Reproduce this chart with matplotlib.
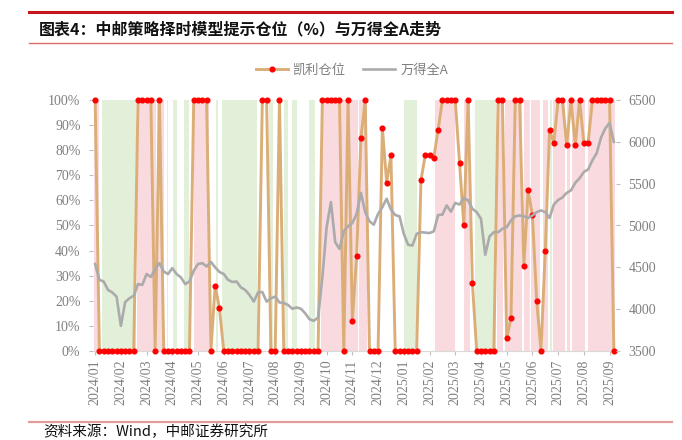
import matplotlib
matplotlib.use('Agg')
import matplotlib.pyplot as plt
from matplotlib.lines import Line2D

plt.rcParams['font.family'] = ['Noto Sans CJK SC', 'DejaVu Sans']

month_labels = ['2024/01', '2024/02', '2024/03', '2024/04', '2024/05', '2024/06', '2024/07',
                '2024/08', '2024/09', '2024/10', '2024/11', '2024/12', '2025/01', '2025/02',
                '2025/03', '2025/04', '2025/05', '2025/06', '2025/07', '2025/08', '2025/09']

# Kelly position (%) per sample
kelly_position = [
    100, 0, 0, 0, 0, 0, 0, 0, 0, 0,
    100, 100, 100, 100, 0, 100, 0, 0, 0, 0,
    0, 0, 0, 100, 100, 100, 100, 0, 26, 17,
    0, 0, 0, 0, 0, 0, 0, 0, 0, 100,
    100, 0, 0, 100, 0, 0, 0, 0, 0, 0,
    0, 0, 0, 100, 100, 100, 100, 100, 0, 100,
    12, 38, 85, 100, 0, 0, 0, 89, 67, 78,
    0, 0, 0, 0, 0, 0, 68, 78, 78, 77,
    88, 100, 100, 100, 100, 75, 50, 100, 27, 0,
    0, 0, 0, 0, 100, 100, 5, 13, 100, 100,
    34, 64, 54, 20, 0, 40, 88, 83, 100, 100,
    82, 100, 82, 100, 83, 83, 100, 100, 100, 100, 100, 0,
]

# Wind All A index per sample
wind_a = [
    4540, 4350, 4330, 4230, 4200, 4150, 3800, 4085, 4130, 4160,
    4300, 4290, 4420, 4385, 4480, 4550, 4450, 4420, 4490, 4420,
    4380, 4300, 4330, 4460, 4540, 4550, 4510, 4565, 4500, 4445,
    4420, 4350, 4325, 4330, 4260, 4230, 4170, 4090, 4200, 4205,
    4090, 4130, 4150, 4080, 4075, 4050, 4005, 4020, 4005, 3950,
    3880, 3860, 3900, 4380, 4980, 5280, 4800, 4720, 4930, 4990,
    5030, 5140, 5390, 5160, 5050, 5010, 5140, 5220, 5320, 5190,
    5125, 5110, 4900, 4770, 4760, 4900, 4920, 4915, 4910, 4930,
    5125, 5130, 5240, 5165, 5270, 5250, 5330, 5300, 5200, 5160,
    5080, 4650, 4870, 4920, 4920, 4960, 4980, 5060, 5110, 5120,
    5110, 5090, 5120, 5160, 5180, 5160, 5090, 5250, 5305, 5335,
    5390, 5420, 5510, 5565, 5640, 5670, 5780, 5865, 6050, 6160, 6225, 6000,
]

# regime shading (sample-index intervals)
bull_spans = [(-0.2, 0.9), (9.8, 14.2), (14.4, 16.0), (23.0, 26.5), (52.6, 61.2), (61.6, 63.5),
              (79.3, 84.0), (86.0, 87.4), (93.7, 95.1), (95.6, 99.5), (100.0, 101.2),
              (101.6, 103.7), (104.4, 105.6), (106.7, 109.5), (110.0, 110.7), (111.2, 114.2),
              (114.9, 121.2)]
bear_spans = [(1.6, 9.5), (16.7, 17.0), (18.1, 19.1), (20.7, 21.9), (28.1, 28.6), (29.5, 37.7),
              (40.5, 41.4), (44.0, 45.1), (46.0, 47.2), (50.0, 51.4), (72.1, 75.1), (88.6, 93.5),
              (101.2, 101.4), (106.0, 106.5)]

W, H = 682, 440
fig = plt.figure(figsize=(W / 100, H / 100), dpi=100)
ax = fig.add_axes([93 / W, 1 - 351 / H, (616 - 93) / W, (351 - 100) / H])

x = list(range(len(kelly_position)))
for a, b in bull_spans:
    ax.axvspan(a, b, color='#F9DADE', lw=0, zorder=0)
for a, b in bear_spans:
    ax.axvspan(a, b, color='#E2F0D9', lw=0, zorder=0)

ax.plot(x, kelly_position, color='#DBAE78', lw=2.1, zorder=2, clip_on=False)
ax.plot(x, kelly_position, ls='none', marker='o', ms=3.4, color='#FF0000', zorder=3, clip_on=False)

ax.set_xlim(-0.5, 121.5)
ax.set_ylim(0, 100)
ax.set_yticks(range(0, 101, 10))
ax.set_yticklabels([f'{v}%' for v in range(0, 101, 10)])
ax.set_xticks([6 * k for k in range(len(month_labels))])
ax.set_xticklabels(month_labels, rotation=90)

ax2 = ax.twinx()
ax2.plot(x, wind_a, color='#ABABAB', lw=1.9, zorder=4)
ax2.set_ylim(3500, 6500)
ax2.set_yticks(range(3500, 6501, 500))
ax2.set_xlim(-0.5, 121.5)

tick_color = '#7F7F7F'
for a in (ax, ax2):
    for s in a.spines.values():
        s.set_visible(False)
    a.tick_params(colors='#BFBFBF', labelcolor=tick_color, length=3, width=0.8)
    for lab in a.get_xticklabels() + a.get_yticklabels():
        lab.set_fontfamily('Liberation Serif')
        lab.set_fontsize(10)
ax.spines['bottom'].set_visible(True)
ax.spines['bottom'].set_color('#D9D9D9')
ax.tick_params(axis='y', pad=6)
ax.tick_params(axis='x', pad=3)
ax2.tick_params(axis='y', pad=6)

handles = [Line2D([], [], color='#DBAE78', lw=2.1, marker='o', mfc='#FF0000', mec='#FF0000', ms=3.4),
           Line2D([], [], color='#ABABAB', lw=1.9)]
fig.legend(handles=handles, labels=['凯利仓位', '万得全A'], loc='center',
           bbox_to_anchor=(352 / W, 1 - 70 / H), ncol=2, frameon=False, fontsize=9.5,
           handlelength=2.4, columnspacing=1.3, handletextpad=0.4, labelcolor='#7F7F7F')

fig.add_artist(Line2D([29 / W, 672 / W], [1 - 12 / H] * 2, color='#C8161E', lw=2.2,
                      transform=fig.transFigure))
fig.add_artist(Line2D([29 / W, 672 / W], [1 - 43 / H] * 2, color='#E06A6A', lw=1.0,
                      transform=fig.transFigure))
fig.add_artist(Line2D([29 / W, 672 / W], [1 - 422 / H] * 2, color='#E39B9B', lw=1.6,
                      transform=fig.transFigure))
fig.text(39 / W, 1 - 29 / H, '图表4：中邮策略择时模型提示仓位（%）与万得全A走势',
         fontsize=11.5, fontweight='bold', va='center', ha='left', color='#111111')
fig.text(43 / W, 1 - 425 / H, '资料来源：Wind，中邮证券研究所', fontsize=10.5,
         va='top', ha='left', color='#111111')

fig.savefig('out.png', dpi=100)
